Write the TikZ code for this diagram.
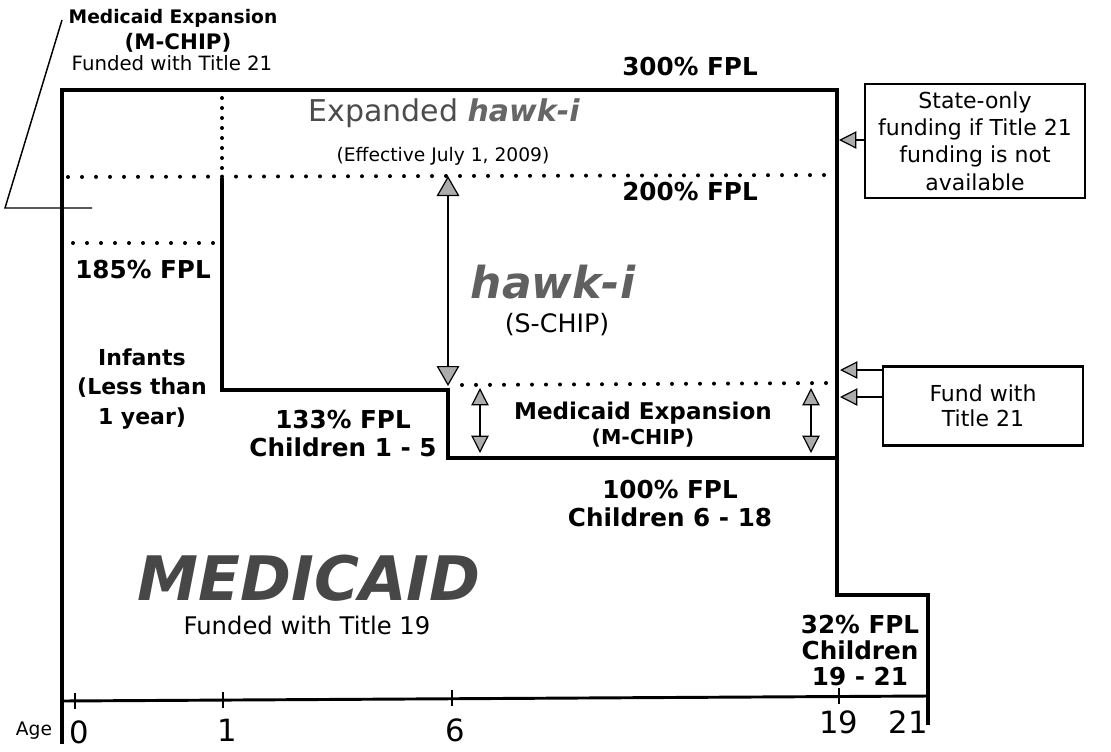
\documentclass[tikz,border=0pt]{standalone}
\usepackage{fontspec}
\setmainfont{DejaVu Sans}
\usetikzlibrary{arrows.meta}
\newcommand\myfs[2]{\fontsize{#1}{#2}\selectfont}
\tikzset{
  border/.style={line width=2.4pt, line join=miter, line cap=rect},
  dotrow/.style={line width=3pt, line cap=round, dash pattern=on 0pt off 10.5pt},
  dotcol/.style={line width=3pt, line cap=round, dash pattern=on 0pt off 7.5pt},
  thinline/.style={line width=1.1pt},
  shaft/.style={line width=1.6pt},
  bigtip/.tip={Triangle[length=15pt,width=17pt,fill=gray!65,line width=0.9pt]},
  midtip/.tip={Triangle[length=13pt,width=13pt,fill=gray!65,line width=0.9pt]},
  fpl/.style={font=\bfseries\myfs{18.5pt}{21pt}, align=center, inner sep=0pt},
  plain/.style={align=center, inner sep=0pt},
  axislab/.style={font=\myfs{23pt}{26pt}, inner sep=0pt},
  infobox/.style={draw, align=center, inner sep=0pt}
}
\begin{document}
\begin{tikzpicture}[x=0.75pt,y=-0.75pt]
\useasboundingbox (0,0) rectangle (1111,751);

% ---------- outer boundary and steps ----------
\draw[border] (62,742) -- (62,90) -- (837,90) -- (837,595) -- (928,595) -- (928,723);
\draw[border] (222,180) -- (222,390) -- (448,390) -- (448,458) -- (837,458);

% ---------- dotted levels ----------
\draw[dotcol] (222,98) -- (222,172);
\draw[dotrow] (68,177) -- (830,175);
\draw[dotrow] (73,243) -- (218,243);
\draw[dotrow] (462,385) -- (830,383);

% ---------- axis ----------
\draw[line width=2.2pt] (62,701) -- (928,696);
\foreach \tx/\ty in {75/701, 223/700, 452/698, 839/696}
  \draw[thinline] (\tx,\ty-8) -- (\tx,\ty+8);
\node[plain, font=\myfs{14pt}{16pt}] (age) at (34,731) {Age};
\node[axislab] (a0) at (79,732) {0};
\node[axislab] (a1) at (227,730) {1};
\node[axislab] (a6) at (455,730) {6};
\node[axislab] (a19) at (839,722) {19};
\node[axislab] (a21) at (908,722) {21};

% ---------- top-left leader ----------
\node[plain, font=\bfseries\myfs{14pt}{16pt}] (mexp) at (173,18) {Medicaid Expansion};
\node[plain, font=\bfseries\myfs{16pt}{18pt}] (mchip) at (178,43) {(M-CHIP)};
\node[plain, font=\myfs{14.8pt}{17pt}] (mfund) at (172,63) {Funded with Title 21};
\coordinate (leadTop) at (62,20);
\coordinate (leadCorner) at (5,208);
\coordinate (leadEnd) at (92,208);
\draw[thinline] (leadTop) -- (leadCorner) -- (leadEnd);

% ---------- level labels ----------
\node[fpl] (l300) at (690,67) {300\% FPL};
\node[fpl] (l200) at (690,192) {200\% FPL};
\node[fpl] (l185) at (143,270) {185\% FPL};
\node[fpl] (l133) at (343,434) {133\% FPL\\Children 1 - 5};
\node[fpl] (l100) at (670,504) {100\% FPL\\Children 6 - 18};
\node[fpl, font=\bfseries\myfs{18.5pt}{19.5pt}] (l32) at (860,651) {32\% FPL\\Children\\19 - 21};
\node[plain, font=\bfseries\myfs{16.5pt}{22pt}] (inf) at (142,389) {Infants\\(Less than\\1 year)};

% ---------- program labels ----------
\node[plain, font=\myfs{22.5pt}{26pt}, text=black!70] (exp) at (444,113)
  {Expanded {\bfseries\itshape\color{gray!80!black}hawk-i}};
\node[plain, font=\myfs{14pt}{16pt}] (eff) at (443,156) {(Effective July 1, 2009)};
\node[plain, font=\bfseries\itshape\myfs{33pt}{36pt}, text=gray!75!black] (hawk) at (553,282) {hawk-i};
\node[plain, font=\myfs{19pt}{21pt}] (schip) at (557,325) {(S-CHIP)};
\node[plain, font=\bfseries\myfs{17.3pt}{19pt}] (mexp2) at (643,413) {Medicaid Expansion};
\node[plain, font=\bfseries\myfs{15.4pt}{17pt}] (mchip2) at (643,438) {(M-CHIP)};
\node[plain, font=\bfseries\itshape\myfs{46pt}{50pt}, text=black!72] (medicaid) at (309,578) {MEDICAID};
\node[plain, font=\myfs{18.2pt}{20pt}] (t19) at (307,625) {Funded with Title 19};

% ---------- double arrows ----------
\coordinate (hTop) at (448,176);
\coordinate (hBot) at (448,386);
\draw[shaft, bigtip-bigtip] (hTop) -- (hBot);
\coordinate (m1Top) at (480,388);
\coordinate (m1Bot) at (480,453);
\draw[shaft, midtip-midtip] (m1Top) -- (m1Bot);
\coordinate (m2Top) at (811,388);
\coordinate (m2Bot) at (811,453);
\draw[shaft, midtip-midtip] (m2Top) -- (m2Bot);

% ---------- side boxes ----------
\node[infobox, line width=1.4pt, minimum width=165pt, minimum height=85pt,
      font=\myfs{16.5pt}{20.5pt}] (stateBox) at (975,141)
  {State-only\\funding if Title 21\\funding is not\\available};
\node[infobox, line width=2.2pt, minimum width=150pt, minimum height=59pt,
      font=\myfs{16.5pt}{19pt}] (fundBox) at (983,406)
  {Fund with\\Title 21};

\coordinate (sTip) at (839,140);
\draw[thinline, -midtip] (stateBox.west |- sTip) -- (sTip);
\coordinate (f1Tip) at (840,370);
\coordinate (f2Tip) at (840,397);
\draw[thinline, -midtip] (fundBox.west |- f1Tip) -- (f1Tip);
\draw[thinline, -midtip] (fundBox.west |- f2Tip) -- (f2Tip);

\end{tikzpicture}
\end{document}
